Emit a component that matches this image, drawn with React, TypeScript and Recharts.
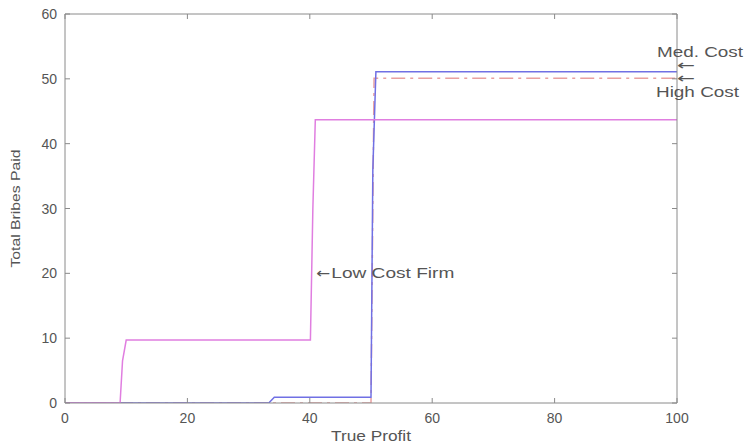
import React from 'react';
import { LineChart, Line, XAxis, YAxis, ReferenceDot, Label } from 'recharts';

// ---- data ----
const xTicks = [0, 20, 40, 60, 80, 100];
const yTicks = [0, 10, 20, 30, 40, 50, 60];

const lowCostX = [0, 9.0, 9.4, 10.0, 40.1, 40.5, 40.9, 100];
const lowCostY = [0, 0, 6.5, 9.7, 9.7, 30, 43.7, 43.7];

const medCostX = [0, 33.3, 34.2, 50.0, 50.3, 50.8, 100];
const medCostY = [0, 0, 0.9, 0.9, 36, 51.1, 51.1];

const highCostX = [0, 50.0, 50.5, 100];
const highCostY = [0, 0, 50.1, 50.1];

const toPoints = (xs: number[], ys: number[]) => xs.map((x, i) => ({ x, y: ys[i] }));
const lowData = toPoints(lowCostX, lowCostY);
const medData = toPoints(medCostX, medCostY);
const highData = toPoints(highCostX, highCostY);

// ---- styles ----
const FONT = '"Liberation Sans", Arial, sans-serif';
const ARROW_FONT = '"DejaVu Sans", sans-serif';
const TEXT = '#555555';
const AXIS = '#8a8a8a';
const BLUE = '#7070e4';
const MAGENTA = '#e07ee0';
const RED = '#e9a0a0';

const BottomTick = (p: any) => (
  <g>
    <line x1={p.x} x2={p.x} y1={p.y} y2={p.y - 5} stroke={AXIS} />
    <text x={p.x} y={p.y + 20} textAnchor="middle" fontFamily={FONT} fontSize={14} fill={TEXT}>
      {p.payload.value}
    </text>
  </g>
);
const TopTick = (p: any) => (
  <line x1={p.x} x2={p.x} y1={p.y} y2={p.y + 5} stroke={AXIS} />
);
const LeftTick = (p: any) => (
  <g>
    <line x1={p.x} x2={p.x + 5} y1={p.y} y2={p.y} stroke={AXIS} />
    <text x={p.x - 8} y={p.y + 5} textAnchor="end" fontFamily={FONT} fontSize={14} fill={TEXT}>
      {p.payload.value}
    </text>
  </g>
);
const RightTick = (p: any) => (
  <line x1={p.x} x2={p.x - 5} y1={p.y} y2={p.y} stroke={AXIS} />
);

const txt = (x: number, y: number, s: string, len?: number, extra: any = {}) => (
  <text x={x} y={y} fontFamily={FONT} fontSize={14} fill={TEXT}
    {...(len ? { textLength: len, lengthAdjust: 'spacingAndGlyphs' } : {})} {...extra}>
    {s}
  </text>
);
const arrow = (x: number, y: number, len: number) =>
  txt(x, y, '←', len, { fontFamily: ARROW_FONT, fontSize: 14 });

const MedLabel = (p: any) => {
  const { x, y } = p.viewBox;
  return (
    <g>
      {txt(x - 20, y - 15, 'Med. Cost', 86)}
      {arrow(x, y - 2, 18)}
    </g>
  );
};
const HighLabel = (p: any) => {
  const { x, y } = p.viewBox;
  return (
    <g>
      {arrow(x, y + 5, 18)}
      {txt(x - 21, y + 19, 'High Cost', 83)}
    </g>
  );
};
const LowLabel = (p: any) => {
  const { x, y } = p.viewBox;
  return (
    <g>
      {arrow(x + 1, y + 5, 14)}
      {txt(x + 16, y + 5, 'Low Cost Firm', 123)}
    </g>
  );
};

const XLabel = (p: any) => {
  const { x, y, width } = p.viewBox;
  return txt(x + width / 2, y + 38, 'True Profit', 80, { textAnchor: 'middle' });
};
const YLabel = (p: any) => {
  const { x, y, height } = p.viewBox;
  const cx = x - 44;
  const cy = y + height / 2;
  return txt(cx, cy, 'Total Bribes Paid', 118, {
    textAnchor: 'middle',
    transform: `rotate(-90 ${cx} ${cy})`,
    fontSize: 13,
  });
};

export default function App() {
  return (
    <div style={{ position: 'absolute', left: 0, top: 0, width: 746, height: 446, background: '#fff' }}>
      <LineChart width={746} height={446} margin={{ top: 13, right: 68, bottom: 42, left: 64 }}>
        <XAxis dataKey="x" type="number" domain={[0, 100]} ticks={xTicks} height={1}
          tickSize={0} tickMargin={0} tickLine={false} axisLine={{ stroke: AXIS }}
          tick={<BottomTick />} allowDataOverflow>
          <Label content={<XLabel />} />
        </XAxis>
        <XAxis xAxisId="top" orientation="top" dataKey="x" type="number" domain={[0, 100]} ticks={xTicks}
          height={1} tickSize={0} tickMargin={0} tickLine={false} axisLine={{ stroke: AXIS }}
          tick={<TopTick />} allowDataOverflow />
        <YAxis type="number" domain={[0, 60]} ticks={yTicks} width={1}
          tickSize={0} tickMargin={0} tickLine={false} axisLine={{ stroke: AXIS }}
          tick={<LeftTick />} allowDataOverflow>
          <Label content={<YLabel />} />
        </YAxis>
        <YAxis yAxisId="right" orientation="right" type="number" domain={[0, 60]} ticks={yTicks} width={1}
          tickSize={0} tickMargin={0} tickLine={false} axisLine={{ stroke: AXIS }}
          tick={<RightTick />} allowDataOverflow />
        <Line data={highData} dataKey="y" stroke={RED} strokeWidth={1.5} strokeDasharray="14 5 3 5"
          dot={false} isAnimationActive={false} />
        <Line data={medData} dataKey="y" stroke={BLUE} strokeWidth={1.5}
          dot={false} isAnimationActive={false} />
        <Line data={lowData} dataKey="y" stroke={MAGENTA} strokeWidth={1.5}
          dot={false} isAnimationActive={false} />
        <ReferenceDot x={100} y={51.1} r={0} fill="none" stroke="none" ifOverflow="visible" label={<MedLabel />} />
        <ReferenceDot x={100} y={50.1} r={0} fill="none" stroke="none" ifOverflow="visible" label={<HighLabel />} />
        <ReferenceDot x={40.9} y={20} r={0} fill="none" stroke="none" ifOverflow="visible" label={<LowLabel />} />
      </LineChart>
    </div>
  );
}
